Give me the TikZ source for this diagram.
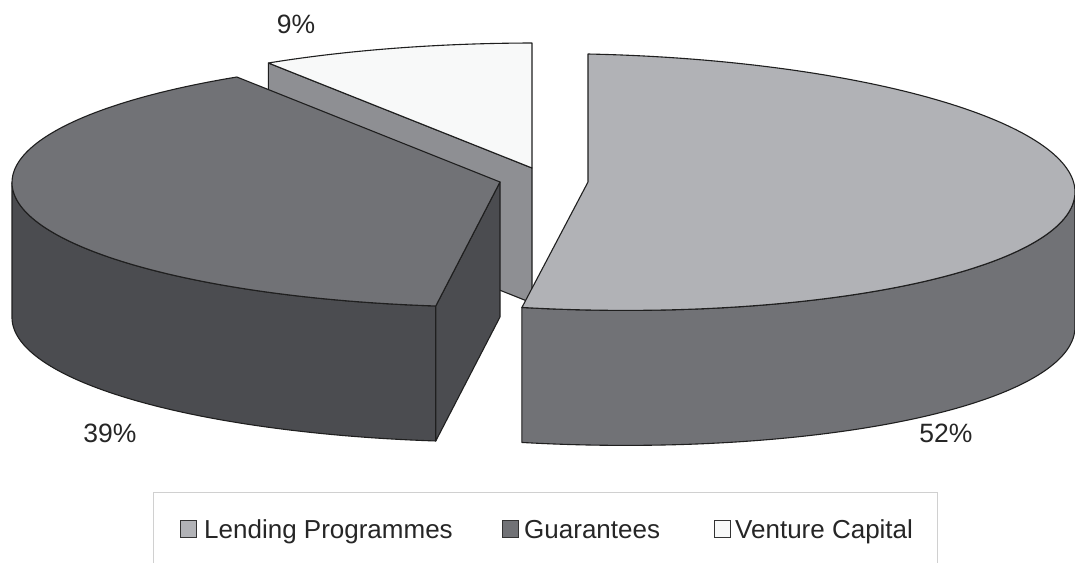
\documentclass[tikz,border=0pt]{standalone}
\usepackage{fontspec}
\setmainfont{Liberation Sans}
\usetikzlibrary{calc}
\definecolor{lendtop}{HTML}{B1B2B6}
\definecolor{midgray}{HTML}{717276}
\definecolor{darkside}{HTML}{4B4C50}
\definecolor{venttop}{HTML}{F8F9F9}
\definecolor{ventface}{HTML}{8E8F93}
\definecolor{legendline}{HTML}{D0D0D0}
\tikzset{
  edge/.style={draw=black!88, line width=1.1pt, line join=round},
  pct/.style={font=\fontsize{26.5}{30}\selectfont, text=black!85, inner sep=0pt, anchor=base},
  legtext/.style={font=\fontsize{26}{30}\selectfont, text=black!85, inner sep=0pt, anchor=base west},
  legmark/.style={draw=black!80, line width=1.1pt, minimum width=16pt, minimum height=17pt, inner sep=0pt, anchor=south west},
}
\begin{document}
\begin{tikzpicture}[x=1pt,y=-1pt]
\clip (0,0) rectangle (1075,562);
\fill[white] (0,0) rectangle (1075,562);
% centres of the exploded slices
\coordinate (vc) at (532,168);
\coordinate (gc) at (500,182);
\coordinate (lc) at (588,182);
\coordinate (vr) at ({532+492*cos(122.4)},{168-cos(122.4)-125*sin(122.4)});
\coordinate (gr) at ({500+488*cos(-97.8)-2*sin(-97.8)},{182-cos(-97.8)-125*sin(-97.8)});
% Venture Capital (9%)
\fill[ventface,edge] (vc) -- (vr) -- ($(vr)+(0,135)$) -- ($(vc)+(0,135)$) -- cycle;
\fill[venttop,edge] (vc) -- plot[domain=122.4:90,samples=40] ({532+492*cos(\x)},{168-cos(\x)-125*sin(\x)}) -- cycle;
% Guarantees (39%)
\fill[darkside,edge] plot[domain=-180:-97.8,samples=80] ({500+488*cos(\x)-2*sin(\x)},{182-cos(\x)-125*sin(\x)})
  -- plot[domain=-97.8:-180,samples=80] ({500+488*cos(\x)-2*sin(\x)},{317-cos(\x)-125*sin(\x)}) -- cycle;
\fill[darkside,edge] (gc) -- (gr) -- ($(gr)+(0,135)$) -- ($(gc)+(0,135)$) -- cycle;
\fill[midgray,edge] (gc) -- plot[domain=-97.8:-237.6,samples=120] ({500+488*cos(\x)-2*sin(\x)},{182-cos(\x)-125*sin(\x)}) -- cycle;
% Lending Programmes (52%)
\fill[midgray,edge] plot[domain=-97.8:0,samples=80] ({588+487*cos(\x)},{182+10*cos(\x)-128*sin(\x)})
  -- plot[domain=0:-97.8,samples=80] ({588+487*cos(\x)},{317+10*cos(\x)-128*sin(\x)}) -- cycle;
\fill[lendtop,edge] (lc) -- plot[domain=90:-97.8,samples=150] ({588+487*cos(\x)},{182+10*cos(\x)-128*sin(\x)}) -- cycle;
% percentage labels
\node[pct] (p9) at (296,33) {9\%};
\node[pct] (p39) at (110,442) {39\%};
\node[pct] (p52) at (946,442) {52\%};
% legend
\draw[legendline, line width=1pt] (153,600) -- (153,492) -- (937,492) -- (937,600);
\node[legmark, fill=lendtop] (m1) at (180,538) {};
\node[legtext] (t1) at (204,538) {Lending Programmes};
\node[legmark, fill=midgray] (m2) at (502,538) {};
\node[legtext] (t2) at (524,538) {Guarantees};
\node[legmark, fill=venttop] (m3) at (714,538) {};
\node[legtext] (t3) at (735,538) {Venture Capital};
\end{tikzpicture}
\end{document}
